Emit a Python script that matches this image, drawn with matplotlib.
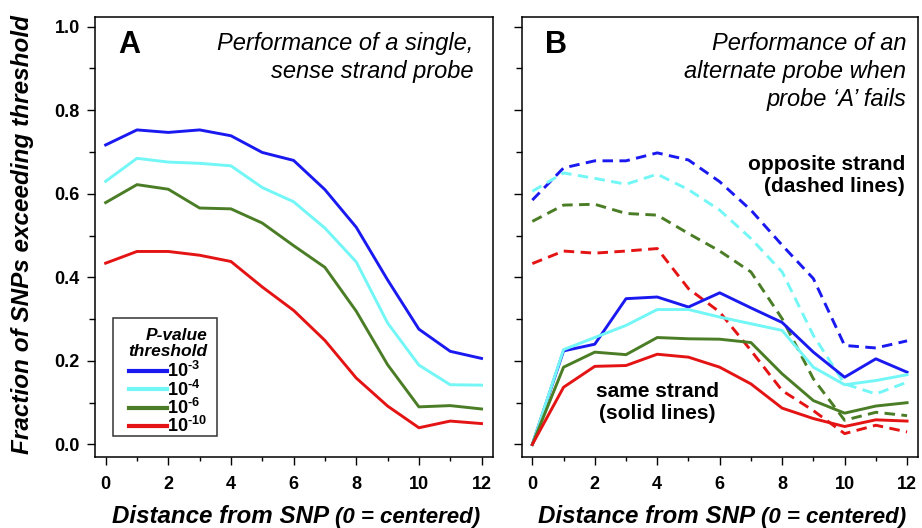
import numpy as np
import matplotlib
matplotlib.use("Agg")
import matplotlib.pyplot as plt
from matplotlib.ticker import MultipleLocator, FormatStrFormatter
from matplotlib.patches import Rectangle

plt.rcParams['font.family'] = ['Liberation Sans', 'DejaVu Sans']
plt.rcParams['mathtext.fontset'] = 'custom'
plt.rcParams['mathtext.bf'] = 'Liberation Sans:bold'
plt.rcParams['mathtext.rm'] = 'Liberation Sans:bold'

# ---- data ----
distance = list(range(13))
thresholds = [r'$\mathbf{10^{\text{-}3}}$', r'$\mathbf{10^{\text{-}4}}$',
              r'$\mathbf{10^{\text{-}6}}$', r'$\mathbf{10^{\text{-}10}}$']
colors = ['#1a1af0', '#72f6f6', '#4a7d25', '#e41414']

# Panel A: single sense strand probe
a_p3  = [0.717, 0.753, 0.747, 0.753, 0.739, 0.699, 0.680, 0.610, 0.520, 0.394, 0.276, 0.223, 0.206]
a_p4  = [0.630, 0.685, 0.676, 0.673, 0.667, 0.615, 0.581, 0.518, 0.437, 0.291, 0.190, 0.143, 0.142]
a_p6  = [0.579, 0.622, 0.611, 0.566, 0.564, 0.530, 0.476, 0.424, 0.319, 0.191, 0.090, 0.093, 0.085]
a_p10 = [0.434, 0.462, 0.462, 0.453, 0.438, 0.377, 0.321, 0.249, 0.159, 0.092, 0.040, 0.056, 0.050]

# Panel B: opposite strand (dashed)
b_opp_p3  = [0.585, 0.662, 0.679, 0.679, 0.698, 0.681, 0.629, 0.561, 0.477, 0.397, 0.237, 0.231, 0.248]
b_opp_p4  = [0.606, 0.650, 0.637, 0.623, 0.647, 0.610, 0.561, 0.493, 0.413, 0.261, 0.145, 0.121, 0.149]
b_opp_p6  = [0.534, 0.573, 0.575, 0.553, 0.549, 0.505, 0.463, 0.413, 0.301, 0.157, 0.058, 0.077, 0.069]
b_opp_p10 = [0.433, 0.463, 0.458, 0.463, 0.469, 0.373, 0.317, 0.225, 0.129, 0.081, 0.026, 0.046, 0.030]

# Panel B: same strand (solid)
b_same_p3  = [0.000, 0.224, 0.240, 0.349, 0.353, 0.329, 0.363, 0.327, 0.292, 0.221, 0.161, 0.205, 0.173]
b_same_p4  = [0.000, 0.227, 0.256, 0.285, 0.323, 0.323, 0.305, 0.289, 0.273, 0.185, 0.143, 0.153, 0.167]
b_same_p6  = [0.000, 0.185, 0.221, 0.215, 0.256, 0.253, 0.252, 0.244, 0.169, 0.105, 0.075, 0.092, 0.100]
b_same_p10 = [0.000, 0.137, 0.187, 0.189, 0.216, 0.209, 0.185, 0.145, 0.087, 0.062, 0.043, 0.059, 0.056]

a_series = [a_p3, a_p4, a_p6, a_p10]
b_opp = [b_opp_p3, b_opp_p4, b_opp_p6, b_opp_p10]
b_same = [b_same_p3, b_same_p4, b_same_p6, b_same_p10]

W, H = 922, 528
fig = plt.figure(figsize=(W / 100, H / 100), dpi=100)
axA = fig.add_axes([95 / W, 1 - 457 / H, 397.5 / W, 440.3 / H])
axB = fig.add_axes([521.7 / W, 1 - 457 / H, 396.3 / W, 440.3 / H])

LW = 2.1
for ax in (axA, axB):
    ax.set_xlim(-0.34, 12.35)
    ax.set_ylim(-0.030, 1.024)
    ax.xaxis.set_major_locator(MultipleLocator(2))
    ax.xaxis.set_minor_locator(MultipleLocator(1))
    ax.yaxis.set_major_locator(MultipleLocator(0.2))
    ax.yaxis.set_minor_locator(MultipleLocator(0.1))
    ax.tick_params(axis='both', which='major', direction='out', length=6, width=1.0,
                   labelsize=13, pad=7.5)
    ax.tick_params(axis='x', which='minor', direction='out', length=3, width=1.0)
    ax.tick_params(axis='y', which='minor', direction='out', length=4, width=1.0)
    ax.tick_params(axis='y', which='major', pad=5)
    for sp in ax.spines.values():
        sp.set_linewidth(1.1)

axA.yaxis.set_major_formatter(FormatStrFormatter('%.1f'))
axB.tick_params(axis='y', labelleft=False)
for ax in (axA, axB):
    for lab in ax.get_xticklabels() + ax.get_yticklabels():
        lab.set_fontweight('bold')

# Panel A lines
handles = []
for ys, c, lab in zip(a_series, colors, thresholds):
    h, = axA.plot(distance, ys, color=c, lw=LW, label=lab)
    handles.append(h)

# Panel B lines
for ys, c in zip(b_opp, colors):
    axB.plot(distance, ys, color=c, lw=LW, dashes=(3.6, 2.2))
for ys, c in zip(b_same, colors):
    axB.plot(distance, ys, color=c, lw=LW)

# legend (frame drawn separately to get the reference's padding)
leg = axA.legend(handles=handles, labels=thresholds, loc='lower left',
                 bbox_to_anchor=(0.083, 0.047), borderaxespad=0,
                 title='P-value\nthreshold', frameon=False,
                 handlelength=2.1, handletextpad=0.0,
                 labelspacing=-0.1, borderpad=0.0,
                 prop={'size': 13, 'weight': 'bold'})
t = leg.get_title()
t.set_fontsize(12.5)
t.set_fontweight('bold')
t.set_fontstyle('italic')
t.set_multialignment('right')
t.set_linespacing(1.05)
leg._legend_box.align = 'right'
leg._legend_box.sep = 2
for lh in leg.get_lines():
    lh.set_linewidth(3)
axA.add_patch(Rectangle((113 / W, 1 - 436 / H), (217 - 113) / W, (436 - 318) / H,
                        transform=fig.transFigure, fill=False, edgecolor='#333333',
                        lw=1.1, zorder=5))

# Panel letters and titles
fig.text(118 / W, 1 - 53 / H, 'A', fontsize=22, fontweight='bold', ha='left', va='baseline')
fig.text(545 / W, 1 - 53 / H, 'B', fontsize=22, fontweight='bold', ha='left', va='baseline')

fig.text(473 / W, 1 - 32 / H, 'Performance of a single,\nsense strand probe', ha='right', va='top',
         fontsize=17, fontstyle='italic', multialignment='right', linespacing=1.27)
fig.text(906 / W, 1 - 32 / H, 'Performance of an\nalternate probe when\nprobe \u2018A\u2019 fails',
         ha='right', va='top', fontsize=17, fontstyle='italic', multialignment='right',
         linespacing=1.27)

fig.text(905 / W, 1 - 155 / H, 'opposite strand\n(dashed lines)', ha='right', va='top',
         fontsize=15, fontweight='bold', multialignment='right', linespacing=1.22)
fig.text(657 / W, 1 - 382 / H, 'same strand\n(solid lines)', ha='center', va='top',
         fontsize=15, fontweight='bold', multialignment='center', linespacing=1.18)

# y label
fig.text(23 / W, 1 - 235 / H, 'Fraction of SNPs exceeding threshold', rotation=90,
         ha='center', va='center', fontsize=17.5, fontweight='bold', fontstyle='italic')

# x labels (two parts)
for x0 in (112, 538):
    main = fig.text(x0 / W, 1 - 523 / H, 'Distance from SNP', ha='left', va='baseline',
                    fontsize=17.4, fontweight='bold', fontstyle='italic')
    fig.canvas.draw()
    bb = main.get_window_extent()
    fig.text((bb.x1 + 6) / W, 1 - 523 / H, '(0 = centered)', ha='left', va='baseline',
             fontsize=16, fontweight='bold', fontstyle='italic',
             family=['Liberation Sans Narrow', 'Liberation Sans'])

fig.savefig('out.png', dpi=100)
